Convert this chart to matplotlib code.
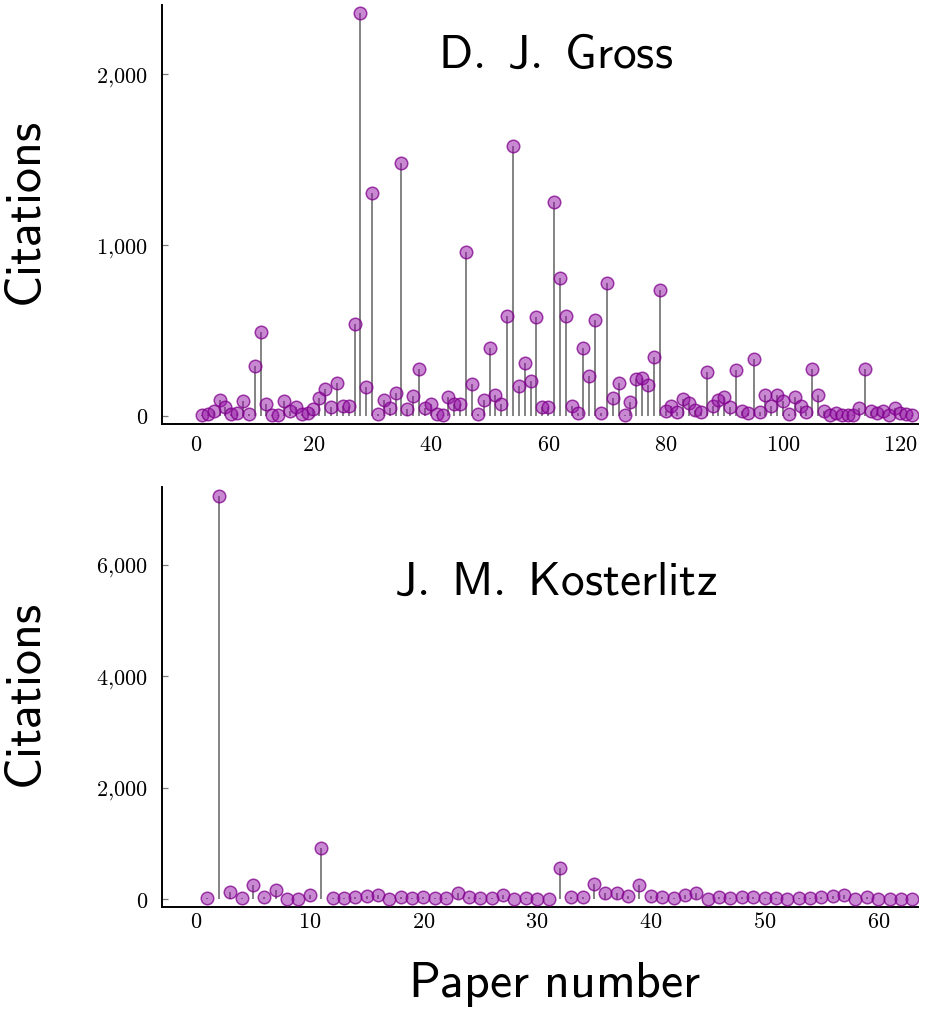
import matplotlib
matplotlib.use("Agg")
import matplotlib.pyplot as plt
from matplotlib.ticker import FuncFormatter

plt.rcParams['mathtext.fontset'] = 'cm'
plt.rcParams['font.family'] = ['DejaVu Serif']

# ---- data: citations per paper ----
gross_citations = [
    5, 10, 30, 94, 55, 10, 20, 87, 10, 292,
    490, 70, 5, 5, 87, 30, 52, 12, 20, 40,
    107, 157, 55, 195, 60, 60, 537, 2360, 172, 1302,
    12, 94, 45, 134, 1481, 41, 117, 277, 47, 70,
    12, 6, 110, 70, 70, 961, 187, 12, 94, 397,
    123, 70, 587, 1577, 175, 310, 205, 577, 55, 55,
    1253, 805, 587, 60, 16, 396, 236, 561, 20, 780,
    103, 195, 6, 84, 214, 220, 181, 347, 737, 31,
    60, 21, 97, 74, 35, 21, 259, 60, 94, 109,
    51, 269, 29, 20, 331, 21, 123, 60, 123, 88,
    10, 113, 60, 25, 277, 123, 31, 6, 16, 6,
    6, 6, 45, 275, 31, 16, 31, 6, 45, 20,
    12, 6,
]
kosterlitz_citations = [
    20, 7233, 136, 18, 256, 47, 167, 10, 10, 77,
    914, 18, 18, 47, 60, 77, 10, 40, 18, 47,
    18, 18, 107, 40, 18, 18, 77, 12, 18, 12,
    12, 567, 47, 47, 269, 119, 119, 60, 254, 60,
    40, 18, 77, 107, 10, 47, 18, 40, 40, 18,
    18, 12, 18, 18, 47, 60, 77, 10, 40, 12,
    12, 12, 12,
]
names = ["D. J. Gross", "J. M. Kosterlitz"]
gross_xticks = [0, 20, 40, 60, 80, 100, 120]
gross_yticks = [0, 1000, 2000]
kost_xticks = [0, 10, 20, 30, 40, 50, 60]
kost_yticks = [0, 2000, 4000, 6000]

gross_papers = list(range(1, len(gross_citations) + 1))
kost_papers = list(range(1, len(kosterlitz_citations) + 1))

W, H = 952, 1021
fig = plt.figure(figsize=(W / 100, H / 100), dpi=100)

def frac_axes(left, top, right, bottom):
    return fig.add_axes([left / W, 1 - bottom / H, (right - left) / W, (bottom - top) / H])

ax1 = frac_axes(162, 5, 918, 424)
ax2 = frac_axes(162, 487, 918, 907)

face = (0.58, 0.08, 0.65, 0.5)
edge = (0.50, 0.0, 0.55, 0.75)
stem_color = '#7a7a7a'

def fmt(v, pos):
    return r'$%s$' % ('{:,}'.format(int(v)).replace(',', '{,}'))

def style(ax, xs, ys, xticks, yticks, xlim, ylim, title, title_y, xpad):
    ax.vlines(xs, 0, ys, colors=stem_color, linewidth=1.3, zorder=2)
    ax.plot(xs, ys, linestyle='none', marker='o', markersize=9,
            markerfacecolor=face, markeredgecolor=edge, markeredgewidth=1.1, zorder=3)
    ax.set_xlim(*xlim)
    ax.set_ylim(*ylim)
    ax.set_xticks(xticks)
    ax.set_yticks(yticks)
    ax.xaxis.set_major_formatter(FuncFormatter(fmt))
    ax.yaxis.set_major_formatter(FuncFormatter(fmt))
    for s in ['top', 'right']:
        ax.spines[s].set_visible(False)
    for s in ['left', 'bottom']:
        ax.spines[s].set_linewidth(1.4)
        ax.spines[s].set_color('black')
    ax.tick_params(axis='y', direction='in', length=4.5, width=0.9, color='#7a7a7a',
                   labelsize=16, pad=10)
    ax.tick_params(axis='x', direction='in', length=0, labelsize=16, pad=xpad)
    ax.set_ylabel(r'$\mathsf{Citations}$', fontsize=36, labelpad=8)
    ax.yaxis.set_label_coords(-0.145, 0.5)
    ax.text(0.52, title_y, title, transform=ax.transAxes, ha='center', va='center',
            fontsize=34)

style(ax1, gross_papers, gross_citations, gross_xticks, gross_yticks,
      (-5.8, 123), (-47, 2404), r'$\mathsf{D.\ J.\ Gross}$', 0.88, 7)
style(ax2, kost_papers, kosterlitz_citations, kost_xticks, kost_yticks,
      (-3.0, 63.5), (-138, 7390), r'$\mathsf{J.\ M.\ Kosterlitz}$', 0.774, 3)
ax2.set_xlabel(r'$\mathsf{Paper\ number}$', fontsize=36, labelpad=8)
ax2.xaxis.set_label_coords(0.52, -0.125)

fig.savefig('out.png', dpi=100)
